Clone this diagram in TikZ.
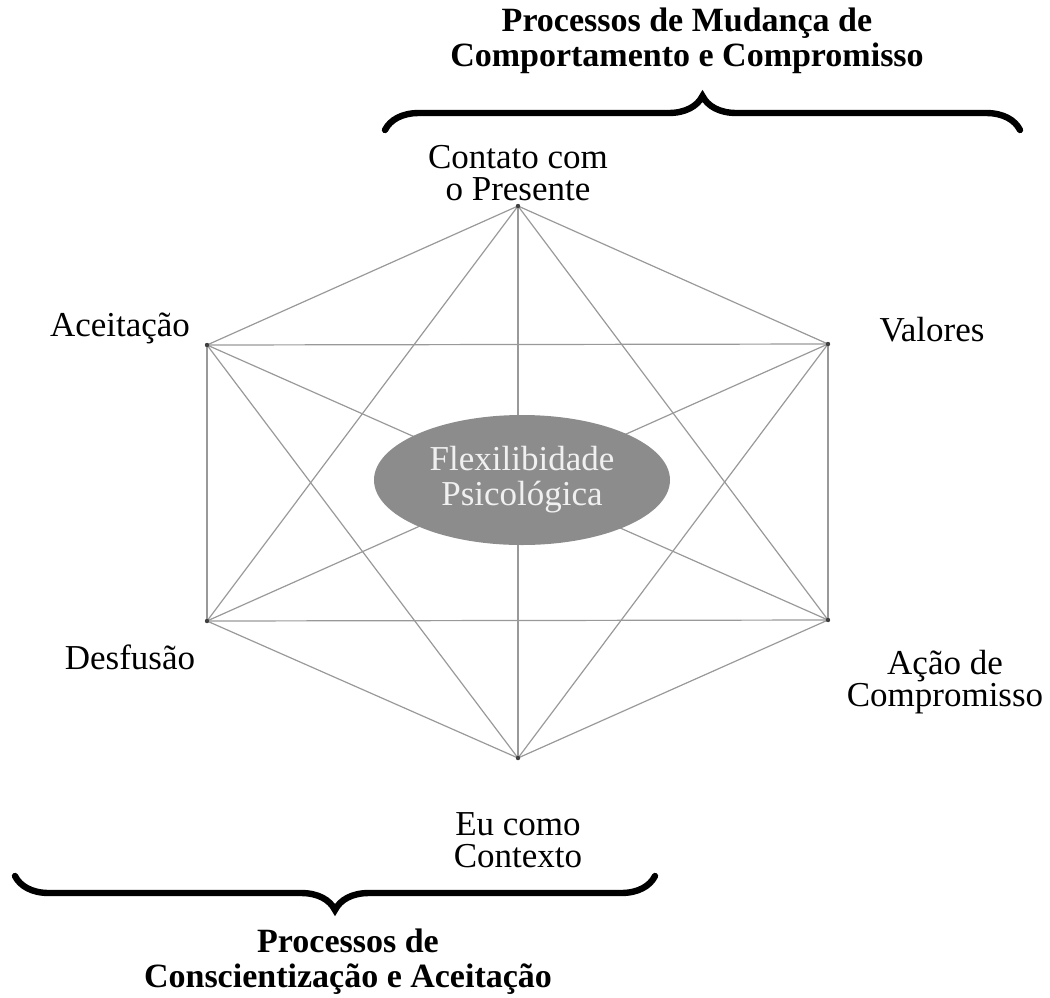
\documentclass[tikz,border=0pt]{standalone}
\usepackage{fontspec}
\setmainfont{Liberation Serif}
\usetikzlibrary{shapes.geometric,decorations.pathreplacing}

\begin{document}
\begin{tikzpicture}[x=0.5pt,y=-0.5pt,
  edge/.style={black!40,line width=0.6pt},
  vertexlabel/.style={align=center,inner sep=0pt,
    font=\fontsize{17.5}{16}\selectfont},
  title/.style={align=center,inner sep=0pt,
    font=\fontsize{17}{17.5}\selectfont\bfseries},
  bigbrace/.style={black,line width=3.2pt,line cap=round,
    decorate,decoration={brace,amplitude=17pt}}]
  % canvas in reference pixels
  \useasboundingbox (0,0) rectangle (1050,997);

  % the six corners of the hexaflex
  \coordinate (top) at (518,206);
  \coordinate (ur)  at (828,344);
  \coordinate (lr)  at (828,620);
  \coordinate (bot) at (518,758);
  \coordinate (ll)  at (207,621);
  \coordinate (ul)  at (207,345);

  % every corner joined to every other one
  \foreach \a/\b in {top/ur,top/lr,top/bot,top/ll,top/ul,
                     ur/lr,ur/bot,ur/ll,ur/ul,
                     lr/bot,lr/ll,lr/ul,
                     bot/ll,bot/ul,ll/ul}
    \draw[edge] (\a) -- (\b);
  \foreach \p in {top,ur,lr,bot,ll,ul}
    \fill[black!75] (\p) circle[radius=2.2];

  \node[ellipse,fill=black!45,minimum width=148pt,minimum height=65pt,
    inner sep=0pt,align=center,text=black!6,
    font=\fontsize{17.5}{17.5}\selectfont] (flex) at (522,480)
    {Flexilibidade\\Psicológica};

  \node[vertexlabel] (presente) at (518,173) {Contato com\\o Presente};
  \node[vertexlabel] (aceit) at (120,328) {Aceitação};
  \node[vertexlabel] (valores) at (932,330) {Valores};
  \node[vertexlabel] (desf) at (130,657) {Desfusão};
  \node[vertexlabel] (acao) at (945,682) {Ação de\\Compromisso};
  \node[vertexlabel] (eu) at (518,840) {Eu como\\Contexto};

  % braces and group titles
  \coordinate (tbl) at (385,130);
  \coordinate (tbr) at (1020,130);
  \coordinate (bbl) at (655,876);
  \coordinate (bbr) at (15,876);
  \draw[bigbrace] (tbl) -- (tbr);
  \draw[bigbrace] (bbl) -- (bbr);

  \node[title] (mudanca) at (687,41)
    {Processos de Mudança de\\Comportamento e Compromisso};
  \node[title] (consc) at (348,962)
    {Processos de\\Conscientização e Aceitação};
\end{tikzpicture}
\end{document}
